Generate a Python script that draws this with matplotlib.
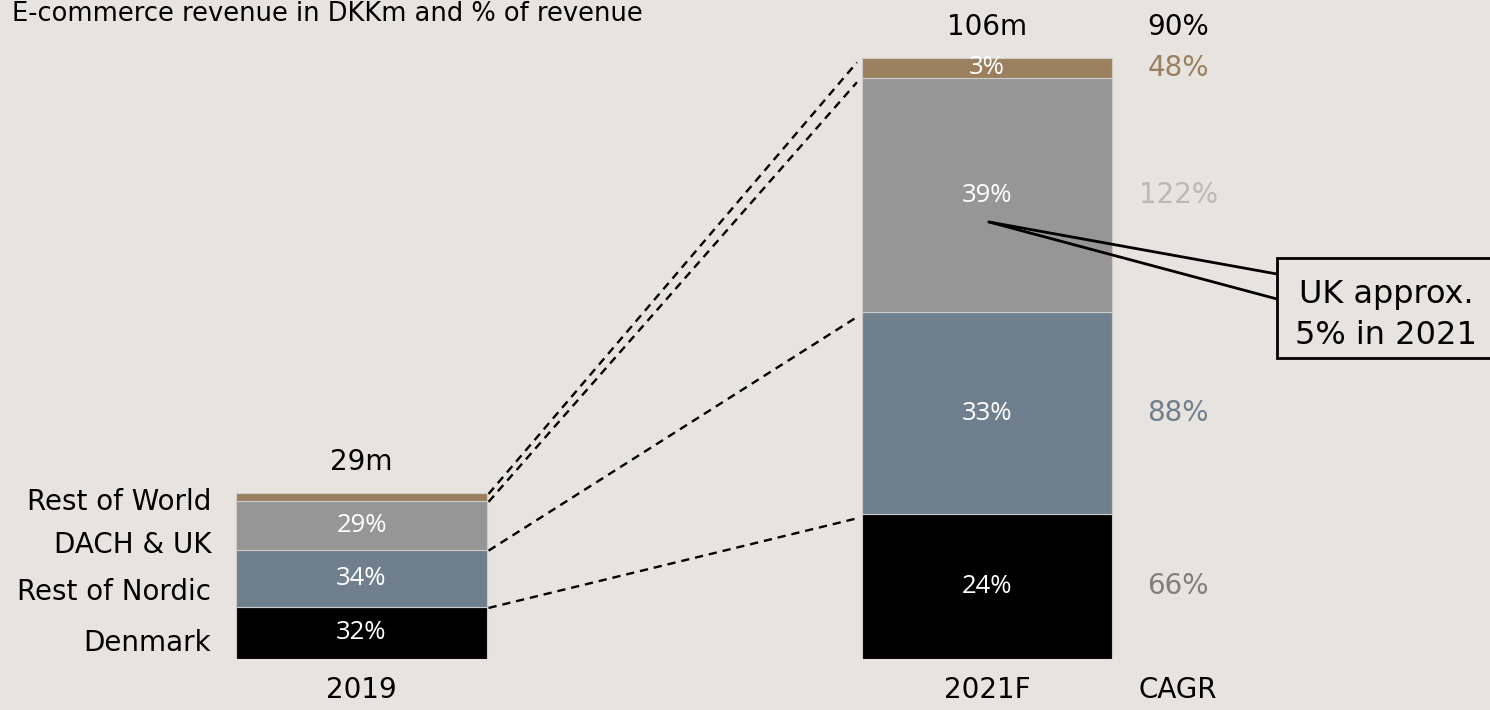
import matplotlib
matplotlib.use("Agg")
import matplotlib.pyplot as plt
from matplotlib.patches import Rectangle
import numpy as np

# ---- data ----
years = ["2019", "2021F"]
regions = ["Denmark", "Rest of Nordic", "DACH & UK", "Rest of World"]
denmark = [9.2, 25.6]
rest_nordic = [10.1, 35.5]
dach_uk = [8.6, 41.4]
rest_world = [1.4, 3.5]
totals_label = ["29m", "106m"]
share_2019 = ["32%", "34%", "29%", ""]
share_2021 = ["24%", "33%", "39%", "3%"]
cagr = ["66%", "88%", "122%", "48%"]
cagr_total = "90%"
title = "E-commerce revenue in DKKm and % of revenue"
callout = "UK approx.\n5% in 2021"

# ---- style ----
BG = "#e7e4df"
seg_colors = ["#000000", "#6f7f8e", "#969696", "#9b805f"]
cagr_colors = ["#7f7f7f", "#6f7f8e", "#b9b9b9", "#9b805f"]
W, H = 1490, 710
fig = plt.figure(figsize=(W / 100, H / 100), dpi=100, facecolor=BG)
ax = fig.add_axes([0, 51 / H, 1, 659 / H])
ax.set_facecolor(BG)
ax.set_xlim(-0.578, 1.804)
ax.set_ylim(0, 116.2)
ax.axis("off")

FONT = "DejaVu Sans"
FONT_IN = "Open Sans"
FS_NUM = 20
FS_LAB = 20

series = [denmark, rest_nordic, dach_uk, rest_world]
x = np.arange(len(years))
bw = 0.4
bottom = np.zeros(len(years))
bounds = [bottom.copy()]
for vals, c in zip(series, seg_colors):
    ax.bar(x, vals, bw, bottom=bottom, color=c, edgecolor="#cfcbc6", linewidth=0.8, zorder=2)
    bottom = bottom + np.array(vals)
    bounds.append(bottom.copy())

# labels inside bars
for i, (vals, lab19, lab21) in enumerate(zip(series, share_2019, share_2021)):
    for j, lab in enumerate([lab19, lab21]):
        if lab:
            yc = bounds[i][j] + vals[j] / 2
            ax.text(x[j], yc, lab, ha="center", va="center", color="white",
                    fontsize=18.5, family=FONT_IN, zorder=3)

# totals
for j, lab in enumerate(totals_label):
    ax.text(x[j], bounds[-1][j] + 5.5, lab, ha="center", va="center",
            color="black", fontsize=FS_NUM, family=FONT)

# CAGR labels
xc = 1.3055
for i, (lab, c) in enumerate(zip(cagr, cagr_colors)):
    yc = bounds[i][1] + series[i][1] / 2
    ax.text(xc, yc, lab, ha="center", va="center", color=c, fontsize=FS_NUM, family=FONT)
ax.text(xc, bounds[-1][1] + 5.5, cagr_total, ha="center", va="center",
        color="black", fontsize=FS_NUM, family=FONT)

# dashed connectors
for k in [1, 2, 3, 4]:
    ax.plot([x[0] + bw / 2 + 0.003, x[1] - bw / 2 - 0.008],
            [bounds[k][0] - 0.2, bounds[k][1] - 0.8],
            color="black", linestyle=(0, (3.5, 2.5)), linewidth=1.7, zorder=1)

# region labels on left
def fx(px):
    return px / W

def fy(py):
    return 1 - py / H

for lab, py in zip(regions, [643, 592, 545, 502]):
    fig.text(fx(211), fy(py), lab, ha="right", va="center", color="black",
             fontsize=FS_LAB, family=FONT)

# category labels
for j, lab in enumerate(years):
    ax.text(x[j], -5.5, lab, ha="center", va="center", color="black",
            fontsize=FS_NUM, family=FONT, clip_on=False)
ax.text(xc, -5.5, "CAGR", ha="center", va="center", color="black",
        fontsize=FS_NUM, family=FONT, clip_on=False)

# title
fig.text(fx(12), fy(14), title, ha="left", va="center", color="black",
         fontsize=18.5, family=FONT)

# callout
px0, py0 = 989, 222
anchor = ax.transData.inverted().transform((px0, H - py0))
for pyb in [274, 299]:
    tgt = ax.transData.inverted().transform((1277, H - pyb))
    ax.plot([anchor[0], tgt[0]], [anchor[1], tgt[1]], color="black",
            linewidth=2, zorder=4, solid_capstyle="round")
box = Rectangle((fx(1277), fy(358)), (1500 - 1277) / W, 100 / H,
                transform=fig.transFigure, facecolor=BG, edgecolor="black",
                linewidth=2, zorder=5)
fig.patches.append(box)
fig.text(fx(1386), fy(315), callout, ha="center", va="center", color="black",
         fontsize=23, family=FONT, linespacing=1.4, zorder=6)

fig.savefig("out.png", dpi=100, facecolor=BG)
